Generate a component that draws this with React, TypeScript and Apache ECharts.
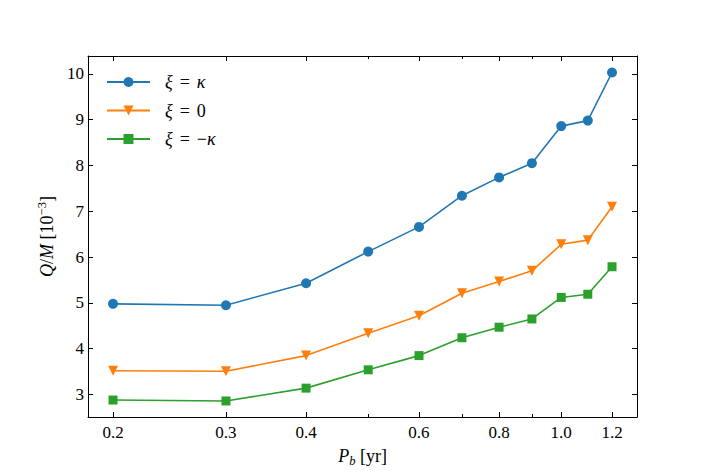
import React, { useEffect, useRef } from "react";
import * as echarts from "echarts";

// Orbital period P_b [yr]
const periods = [0.2, 0.3, 0.4, 0.5, 0.6, 0.7, 0.8, 0.9, 1.0, 1.1, 1.2];
// Q/M [10^-3]
const xiKappa = [4.98, 4.95, 5.43, 6.12, 6.66, 7.34, 7.74, 8.05, 8.86, 8.98, 10.03];
const xiZero = [3.52, 3.51, 3.85, 4.34, 4.72, 5.21, 5.47, 5.70, 6.28, 6.37, 7.10];
const xiMinusKappa = [2.88, 2.86, 3.14, 3.54, 3.85, 4.24, 4.47, 4.65, 5.12, 5.19, 5.79];

const xMajorTicks = [0.2, 0.3, 0.4, 0.6, 0.8, 1.0, 1.2];
const xMinorTicks = [0.5, 0.7, 0.9];
const yTicks = [3, 4, 5, 6, 7, 8, 9, 10];

const seriesNames = ["ξ = κ", "ξ = 0", "ξ = −κ"];
const legendRich: Record<string, string> = {
  "ξ = κ": "{s|}{i|ξ}{e|=}{i|κ}",
  "ξ = 0": "{s|}{i|ξ}{e|=}{n|0}",
  "ξ = −κ": "{s|}{i|ξ}{e|=}{n|−}{i|κ}",
};

const FONT = "'Liberation Serif', 'DejaVu Serif', serif";
const FS = 17;

export default function App() {
  const ref = useRef<HTMLDivElement>(null);
  useEffect(() => {
    const chart = echarts.init(ref.current!, null, { renderer: "svg" });
    const xMin = 0.1828;
    const xMax = 1.3126;
    const yMin = 2.51;
    const yMax = 10.39;
    const lineCol = "#000";
    const baseX = {
      type: "log",
      logBase: 10,
      min: xMin,
      max: xMax,
      gridIndex: 0,
      splitLine: { show: false },
    };
    const mk = (vals: number[], color: string, symbol: string, size: number, name: string) => ({
      type: "line",
      name,
      xAxisIndex: 0,
      yAxisIndex: 0,
      data: periods.map((p, i) => [p, vals[i]]),
      symbol,
      symbolSize: size,
      showSymbol: true,
      itemStyle: { color },
      lineStyle: { color, width: 1.6 },
      emphasis: { disabled: true },
    });
    chart.setOption({
      animation: false,
      backgroundColor: "#fff",
      grid: { left: 88, top: 56, width: 549, height: 363, containLabel: false },
      textStyle: { fontFamily: FONT, color: "#000" },
      legend: {
        left: 106,
        top: 72,
        padding: 0,
        orient: "vertical",
        itemWidth: 43,
        itemHeight: 12.5,
        itemGap: 8.5,
        data: seriesNames,
        formatter: (name: string) => legendRich[name],
        textStyle: {
          fontFamily: FONT,
          fontSize: FS,
          color: "#000",
          lineHeight: 20,
          rich: {
            s: { width: 10 },
            i: { fontFamily: FONT, fontStyle: "italic", fontSize: FS + 1, color: "#000" },
            e: { fontFamily: FONT, fontSize: FS + 1, padding: [0, 7, 0, 7], color: "#000" },
            n: { fontFamily: FONT, fontSize: FS + 1, color: "#000" },
          },
        },
      },
      xAxis: [
        {
          ...baseX,
          position: "bottom",
          axisLine: { show: true, onZero: false, lineStyle: { color: lineCol, width: 1 } },
          axisTick: { show: true, inside: true, length: 5, customValues: xMajorTicks, lineStyle: { color: lineCol, width: 1 } },
          axisLabel: {
            show: true,
            customValues: xMajorTicks,
            margin: 7,
            fontFamily: FONT,
            fontSize: FS,
            color: "#000",
            formatter: (v: number) => v.toFixed(1),
          },
          name: "{i|P}{sub|b}{n| [yr]}",
          nameLocation: "middle",
          nameGap: 27,
          nameTextStyle: {
            fontFamily: FONT,
            fontSize: FS,
            color: "#000",
            rich: {
              i: { fontFamily: FONT, fontStyle: "italic", fontSize: FS + 1, color: "#000" },
              sub: { fontFamily: FONT, fontStyle: "italic", fontSize: 12.5, padding: [10, 0, 0, 0], color: "#000" },
              n: { fontFamily: FONT, fontSize: FS + 1, color: "#000" },
            },
          },
        },
        {
          ...baseX,
          position: "bottom",
          axisLine: { show: false, onZero: false },
          axisTick: { show: true, inside: true, length: 3, customValues: xMinorTicks, lineStyle: { color: lineCol, width: 1 } },
          axisLabel: { show: false },
        },
        {
          ...baseX,
          position: "top",
          axisLine: { show: true, onZero: false, lineStyle: { color: lineCol, width: 1 } },
          axisTick: { show: true, inside: true, length: 5, customValues: xMajorTicks, lineStyle: { color: lineCol, width: 1 } },
          axisLabel: { show: false },
        },
        {
          ...baseX,
          position: "top",
          axisLine: { show: false, onZero: false },
          axisTick: { show: true, inside: true, length: 3, customValues: xMinorTicks, lineStyle: { color: lineCol, width: 1 } },
          axisLabel: { show: false },
        },
      ],
      yAxis: [
        {
          type: "value",
          position: "left",
          min: yMin,
          max: yMax,
          splitLine: { show: false },
          axisLine: { show: true, onZero: false, lineStyle: { color: lineCol, width: 1 } },
          axisTick: { show: true, inside: true, length: 5, customValues: yTicks, lineStyle: { color: lineCol, width: 1 } },
          axisLabel: {
            show: true,
            customValues: yTicks,
            margin: 4,
            fontFamily: FONT,
            fontSize: FS,
            color: "#000",
          },
          name: "{i|Q}{n|/}{i|M}{n| [10}{sup|−3}{n|]}",
          nameLocation: "middle",
          nameRotate: 90,
          nameGap: 27,
          nameTextStyle: {
            fontFamily: FONT,
            fontSize: FS,
            color: "#000",
            rich: {
              i: { fontFamily: FONT, fontStyle: "italic", fontSize: FS + 1, color: "#000" },
              sup: { fontFamily: FONT, fontSize: 12.5, padding: [0, 0, 10, 0], color: "#000" },
              n: { fontFamily: FONT, fontSize: FS + 1, color: "#000" },
            },
          },
        },
        {
          type: "value",
          position: "right",
          min: yMin,
          max: yMax,
          splitLine: { show: false },
          axisLine: { show: true, onZero: false, lineStyle: { color: lineCol, width: 1 } },
          axisTick: { show: true, inside: true, length: 5, customValues: yTicks, lineStyle: { color: lineCol, width: 1 } },
          axisLabel: { show: false },
        },
      ],
      series: [
        mk(xiKappa, "#1f77b4", "circle", 10, seriesNames[0]),
        mk(xiZero, "#ff7f0e", "path://M0,0 L2,0 L1,2 Z", 10, seriesNames[1]),
        mk(xiMinusKappa, "#2ca02c", "rect", 9, seriesNames[2]),
      ],
    });
    return () => chart.dispose();
  }, []);
  return (
    <div
      ref={ref}
      style={{ position: "absolute", left: 0, top: 0, width: 708, height: 472 }}
    />
  );
}
